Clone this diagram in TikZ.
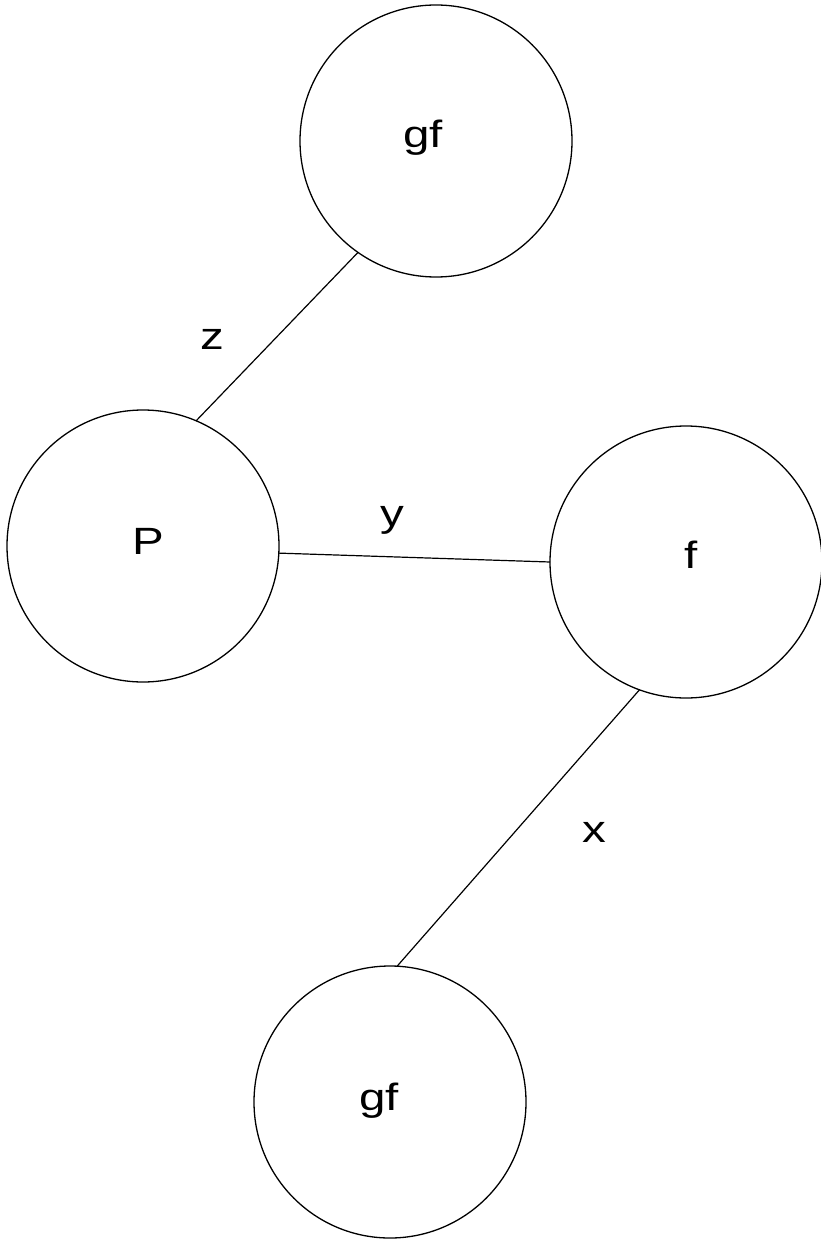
\documentclass[tikz,border=0pt]{standalone}
\usepackage{fontspec}
\setmainfont[FakeStretch=1.25]{Liberation Sans}
\begin{document}
\begin{tikzpicture}[x=1pt,y=-1pt,
  vert/.style={draw,circle,minimum size=272pt,inner sep=0pt,outer sep=0pt,line width=1.3pt},
  edge/.style={line width=1.2pt},
  txt/.style={anchor=base,inner sep=0pt,font=\fontsize{38}{40}\selectfont}]
\useasboundingbox (0,0) rectangle (821,1241);
\node[vert] (gftop) at (436,141) {};
\node[vert] (P) at (143,546) {};
\node[vert] (f) at (686,562) {};
\node[vert] (gfbot) at (390,1102) {};
\node[txt] (tgftop) at (423,148) {gf};
\node[txt] (tP) at (148,554) {P};
\node[txt] (tf) at (691,568) {f};
\node[txt] (tgfbot) at (379,1110) {gf};
\draw[edge] (gftop.235) -- (P.67);
\draw[edge] (P.-3) -- (f.180);
\draw[edge] (f.250) -- (gfbot.87);
\node[txt] (lz) at (212,349) {z};
\node[txt] (ly) at (392,526) {y};
\node[txt] (lx) at (594,842) {x};
\end{tikzpicture}
\end{document}
